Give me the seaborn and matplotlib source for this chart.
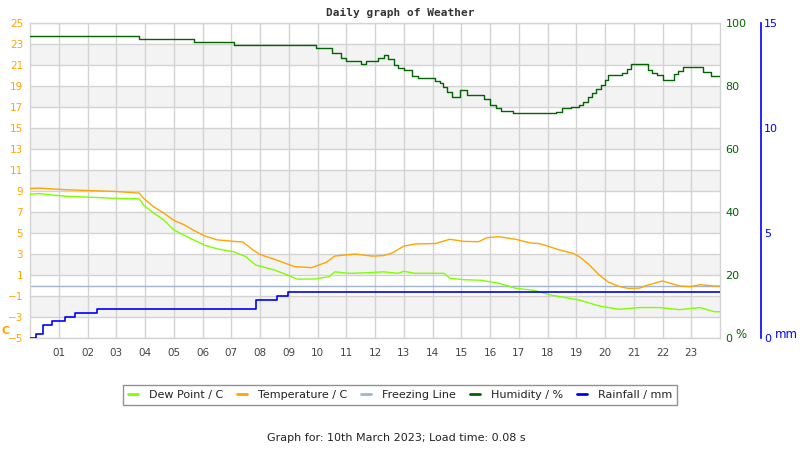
import matplotlib
matplotlib.use("Agg")
import matplotlib.pyplot as plt
import seaborn as sns
import pandas as pd
from matplotlib.lines import Line2D

# ---------------- data ----------------
temp_hours = [0.0, 0.3, 1.25, 3.0, 3.8, 3.95, 4.3, 4.65, 5.0, 5.35, 5.7, 6.05, 6.5, 7.1, 7.4,
              7.75, 8.0, 8.5, 8.95, 9.2, 9.8, 10.3, 10.6, 11.3, 11.9, 12.3, 12.6, 13.0,
              13.4, 14.1, 14.6, 15.1, 15.6, 15.9, 16.3, 16.9, 17.4, 17.7, 17.9, 18.4,
              18.9, 19.1, 19.4, 19.8, 20.1, 20.5, 20.8, 21.2, 21.5, 22.0, 22.6, 23.0, 23.3,
              23.8, 24.0]
temp_vals = [9.23, 9.28, 9.12, 8.95, 8.8, 8.3, 7.5, 6.9, 6.2, 5.8, 5.25, 4.75, 4.35, 4.2, 4.15,
             3.4, 2.95, 2.5, 2.05, 1.8, 1.7, 2.2, 2.8, 3.0, 2.8, 2.85, 3.1, 3.75,
             3.95, 4.0, 4.4, 4.2, 4.17, 4.55, 4.65, 4.4, 4.05, 4.0, 3.85, 3.4,
             3.05, 2.75, 2.1, 1.0, 0.35, -0.1, -0.27, -0.25, 0.05, 0.43, -0.05, -0.1, 0.08,
             -0.05, -0.05]

dew_hours = [0.0, 0.3, 1.25, 3.0, 3.8, 3.95, 4.3, 4.65, 5.0, 5.35, 5.7, 6.05, 6.5, 7.1, 7.5,
             7.85, 8.5, 8.95, 9.3, 9.9, 10.4, 10.6, 11.1, 11.6, 12.3, 12.8, 13.0, 13.4,
             14.4, 14.6, 15.1, 15.7, 16.3, 16.9, 17.5, 18.1, 19.1, 19.8, 20.5, 21.2,
             21.9, 22.6, 23.3, 23.8, 24.0]
dew_vals = [8.69, 8.75, 8.5, 8.3, 8.25, 7.65, 6.9, 6.25, 5.3, 4.8, 4.33, 3.86, 3.5, 3.2, 2.75,
            1.95, 1.48, 1.0, 0.6, 0.62, 0.84, 1.3, 1.16, 1.2, 1.3, 1.16, 1.35, 1.16,
            1.16, 0.7, 0.55, 0.5, 0.22, -0.27, -0.45, -0.9, -1.38, -1.95, -2.27, -2.1,
            -2.1, -2.3, -2.1, -2.5, -2.5]

hum_hours = [0.0, 3.8, 5.7, 7.1, 9.95, 10.5, 10.8, 11.0, 11.5, 11.7, 12.1, 12.3, 12.45,
             12.65, 12.8, 13.0, 13.3, 13.5, 14.1, 14.25, 14.38, 14.5, 14.67, 14.96, 15.2,
             15.8, 16.0, 16.2, 16.4, 16.8, 18.3, 18.5, 18.8, 19.1, 19.25, 19.4, 19.55,
             19.7, 19.85, 20.0, 20.1, 20.6, 20.75, 20.9, 21.3, 21.5, 21.65, 21.8, 22.0,
             22.4, 22.55, 22.7, 23.4, 23.7, 24.0]
hum_vals = [95.9, 94.8, 94.0, 93.0, 92.0, 90.4, 88.8, 87.9, 87.0, 87.9, 88.8, 90.0, 88.6,
            86.7, 85.6, 85.1, 83.2, 82.5, 81.7, 80.8, 79.8, 78.0, 76.6, 78.7, 77.1,
            76.0, 74.0, 73.0, 72.1, 71.5, 71.8, 72.9, 73.3, 74.0, 75.0, 76.6, 77.8,
            79.0, 80.3, 82.0, 83.5, 84.2, 85.5, 86.9, 86.9, 85.1, 84.2, 83.5, 81.9,
            83.7, 84.8, 85.9, 84.5, 83.3, 83.3]

rain_hours = [0.0, 0.2, 0.46, 0.75, 1.23, 1.57, 2.34, 7.87, 8.6, 8.97, 24.0]
rain_vals = [0.0, 0.2, 0.6, 0.8, 1.0, 1.2, 1.4, 1.8, 2.0, 2.2, 2.2]

freeze_hours = [0.0, 24.0]
freeze_vals = [0.0, 0.0]

hour_ticks = list(range(1, 24))
hour_labels = [f"{h:02d}" for h in hour_ticks]
temp_ticks = list(range(-5, 26, 2))
hum_ticks = [0, 20, 40, 60, 80, 100]
rain_ticks = [0, 5, 10, 15]

# ---------------- style ----------------
sns.set_style("white")
plt.rcParams['font.family'] = ['DejaVu Sans']

C_DEW = "#7fff00"
C_TEMP = "#ffa500"
C_FREEZE = "#a3b5cc"
C_HUM = "#006400"
C_RAIN = "#0000ff"
C_GRID = "#d3d3d3"
LW = 1.0

fig = plt.figure(figsize=(8, 4.5), dpi=100)
ax = fig.add_axes([30/800, 1-338/450, 690/800, 315/450])
ax.set_xlim(0, 24)
ax.set_ylim(-5, 25)

# alternating bands
for lo in range(-3, 25, 4):
    ax.axhspan(lo, lo + 2, color="#f3f3f3", zorder=0, lw=0)
for t in temp_ticks:
    ax.axhline(t, color=C_GRID, lw=1, zorder=0.5)
for h in hour_ticks:
    ax.axvline(h, color=C_GRID, lw=1, zorder=0.5)

df_t = pd.DataFrame({"h": temp_hours, "v": temp_vals})
df_d = pd.DataFrame({"h": dew_hours, "v": dew_vals})
df_f = pd.DataFrame({"h": freeze_hours, "v": freeze_vals})
sns.lineplot(data=df_f, x="h", y="v", ax=ax, color=C_FREEZE, lw=LW, estimator=None, zorder=2)
sns.lineplot(data=df_d, x="h", y="v", ax=ax, color=C_DEW, lw=LW, estimator=None, zorder=3)
sns.lineplot(data=df_t, x="h", y="v", ax=ax, color=C_TEMP, lw=LW, estimator=None, zorder=3)

ax.set_xticks(hour_ticks)
ax.set_xticklabels(hour_labels)
ax.set_yticks(temp_ticks)
ax.tick_params(axis="x", length=0, pad=7, labelsize=7.5, labelcolor="#444444")
ax.tick_params(axis="y", length=0, pad=5, labelsize=7.5, labelcolor=C_TEMP)
ax.set_xlabel("")
ax.set_ylabel("")
for s in ax.spines.values():
    s.set_color(C_GRID)
    s.set_linewidth(1)

# humidity axis
ax2 = ax.twinx()
ax2.set_ylim(0, 100)
df_h = pd.DataFrame({"h": hum_hours, "v": hum_vals})
sns.lineplot(data=df_h, x="h", y="v", ax=ax2, color=C_HUM, lw=LW, estimator=None,
             drawstyle="steps-post")
ax2.set_yticks(hum_ticks)
ax2.tick_params(axis="y", length=0, pad=4, labelsize=8, labelcolor=C_HUM)
ax2.set_ylabel("")
ax2.set_xlabel("")
for s in ax2.spines.values():
    s.set_visible(False)

# rainfall axis
ax3 = ax.twinx()
ax3.set_ylim(0, 15)
ax3.spines["right"].set_position(("axes", (761 - 30) / 690))
for k, s in ax3.spines.items():
    s.set_visible(k == "right")
ax3.spines["right"].set_color(C_RAIN)
ax3.spines["right"].set_linewidth(1.2)
df_r = pd.DataFrame({"h": rain_hours, "v": rain_vals})
sns.lineplot(data=df_r, x="h", y="v", ax=ax3, color=C_RAIN, lw=1.2, estimator=None,
             drawstyle="steps-post")
ax3.set_yticks(rain_ticks)
ax3.tick_params(axis="y", length=0, pad=2, labelsize=8, labelcolor=C_RAIN)
ax3.set_ylabel("")
ax3.set_xlabel("")
ax.set_xlim(0, 24)

# axis unit labels
fig.text(1/800, 1-331/450, "C", color=C_TEMP, fontsize=8, fontweight="bold",
         ha="left", va="center")
fig.text(735/800, 1-334/450, "%", color=C_HUM, fontsize=8.5, ha="left", va="center")
fig.text(775/800, 1-335/450, "mm", color=C_RAIN, fontsize=8.5, ha="left", va="center")

# title and footer
fig.text(400/800, 1-13/450, "Daily graph of Weather", ha="center", va="center",
         fontsize=8, fontweight="bold", family="DejaVu Sans Mono", color="#333333")
fig.text(396/800, 1-438/450, "Graph for: 10th March 2023; Load time: 0.08 s",
         ha="center", va="center", fontsize=8, color="#222222")

handles = [Line2D([], [], color=C_DEW, lw=2),
           Line2D([], [], color=C_TEMP, lw=2),
           Line2D([], [], color=C_FREEZE, lw=2),
           Line2D([], [], color=C_HUM, lw=2),
           Line2D([], [], color=C_RAIN, lw=2)]
labels = ["Dew Point / C", "Temperature / C", "Freezing Line", "Humidity / %", "Rainfall / mm"]
leg = fig.legend(handles, labels, loc="center", bbox_to_anchor=(400/800, 1-395/450),
                 ncol=5, fontsize=8, frameon=True, fancybox=False, handlelength=0.9,
                 handletextpad=1.0, columnspacing=1.25, borderpad=0.45)
leg.get_frame().set_edgecolor("#777777")
leg.get_frame().set_linewidth(1)
for t in leg.get_texts():
    t.set_color("#222222")

fig.savefig("out.png", dpi=100)
